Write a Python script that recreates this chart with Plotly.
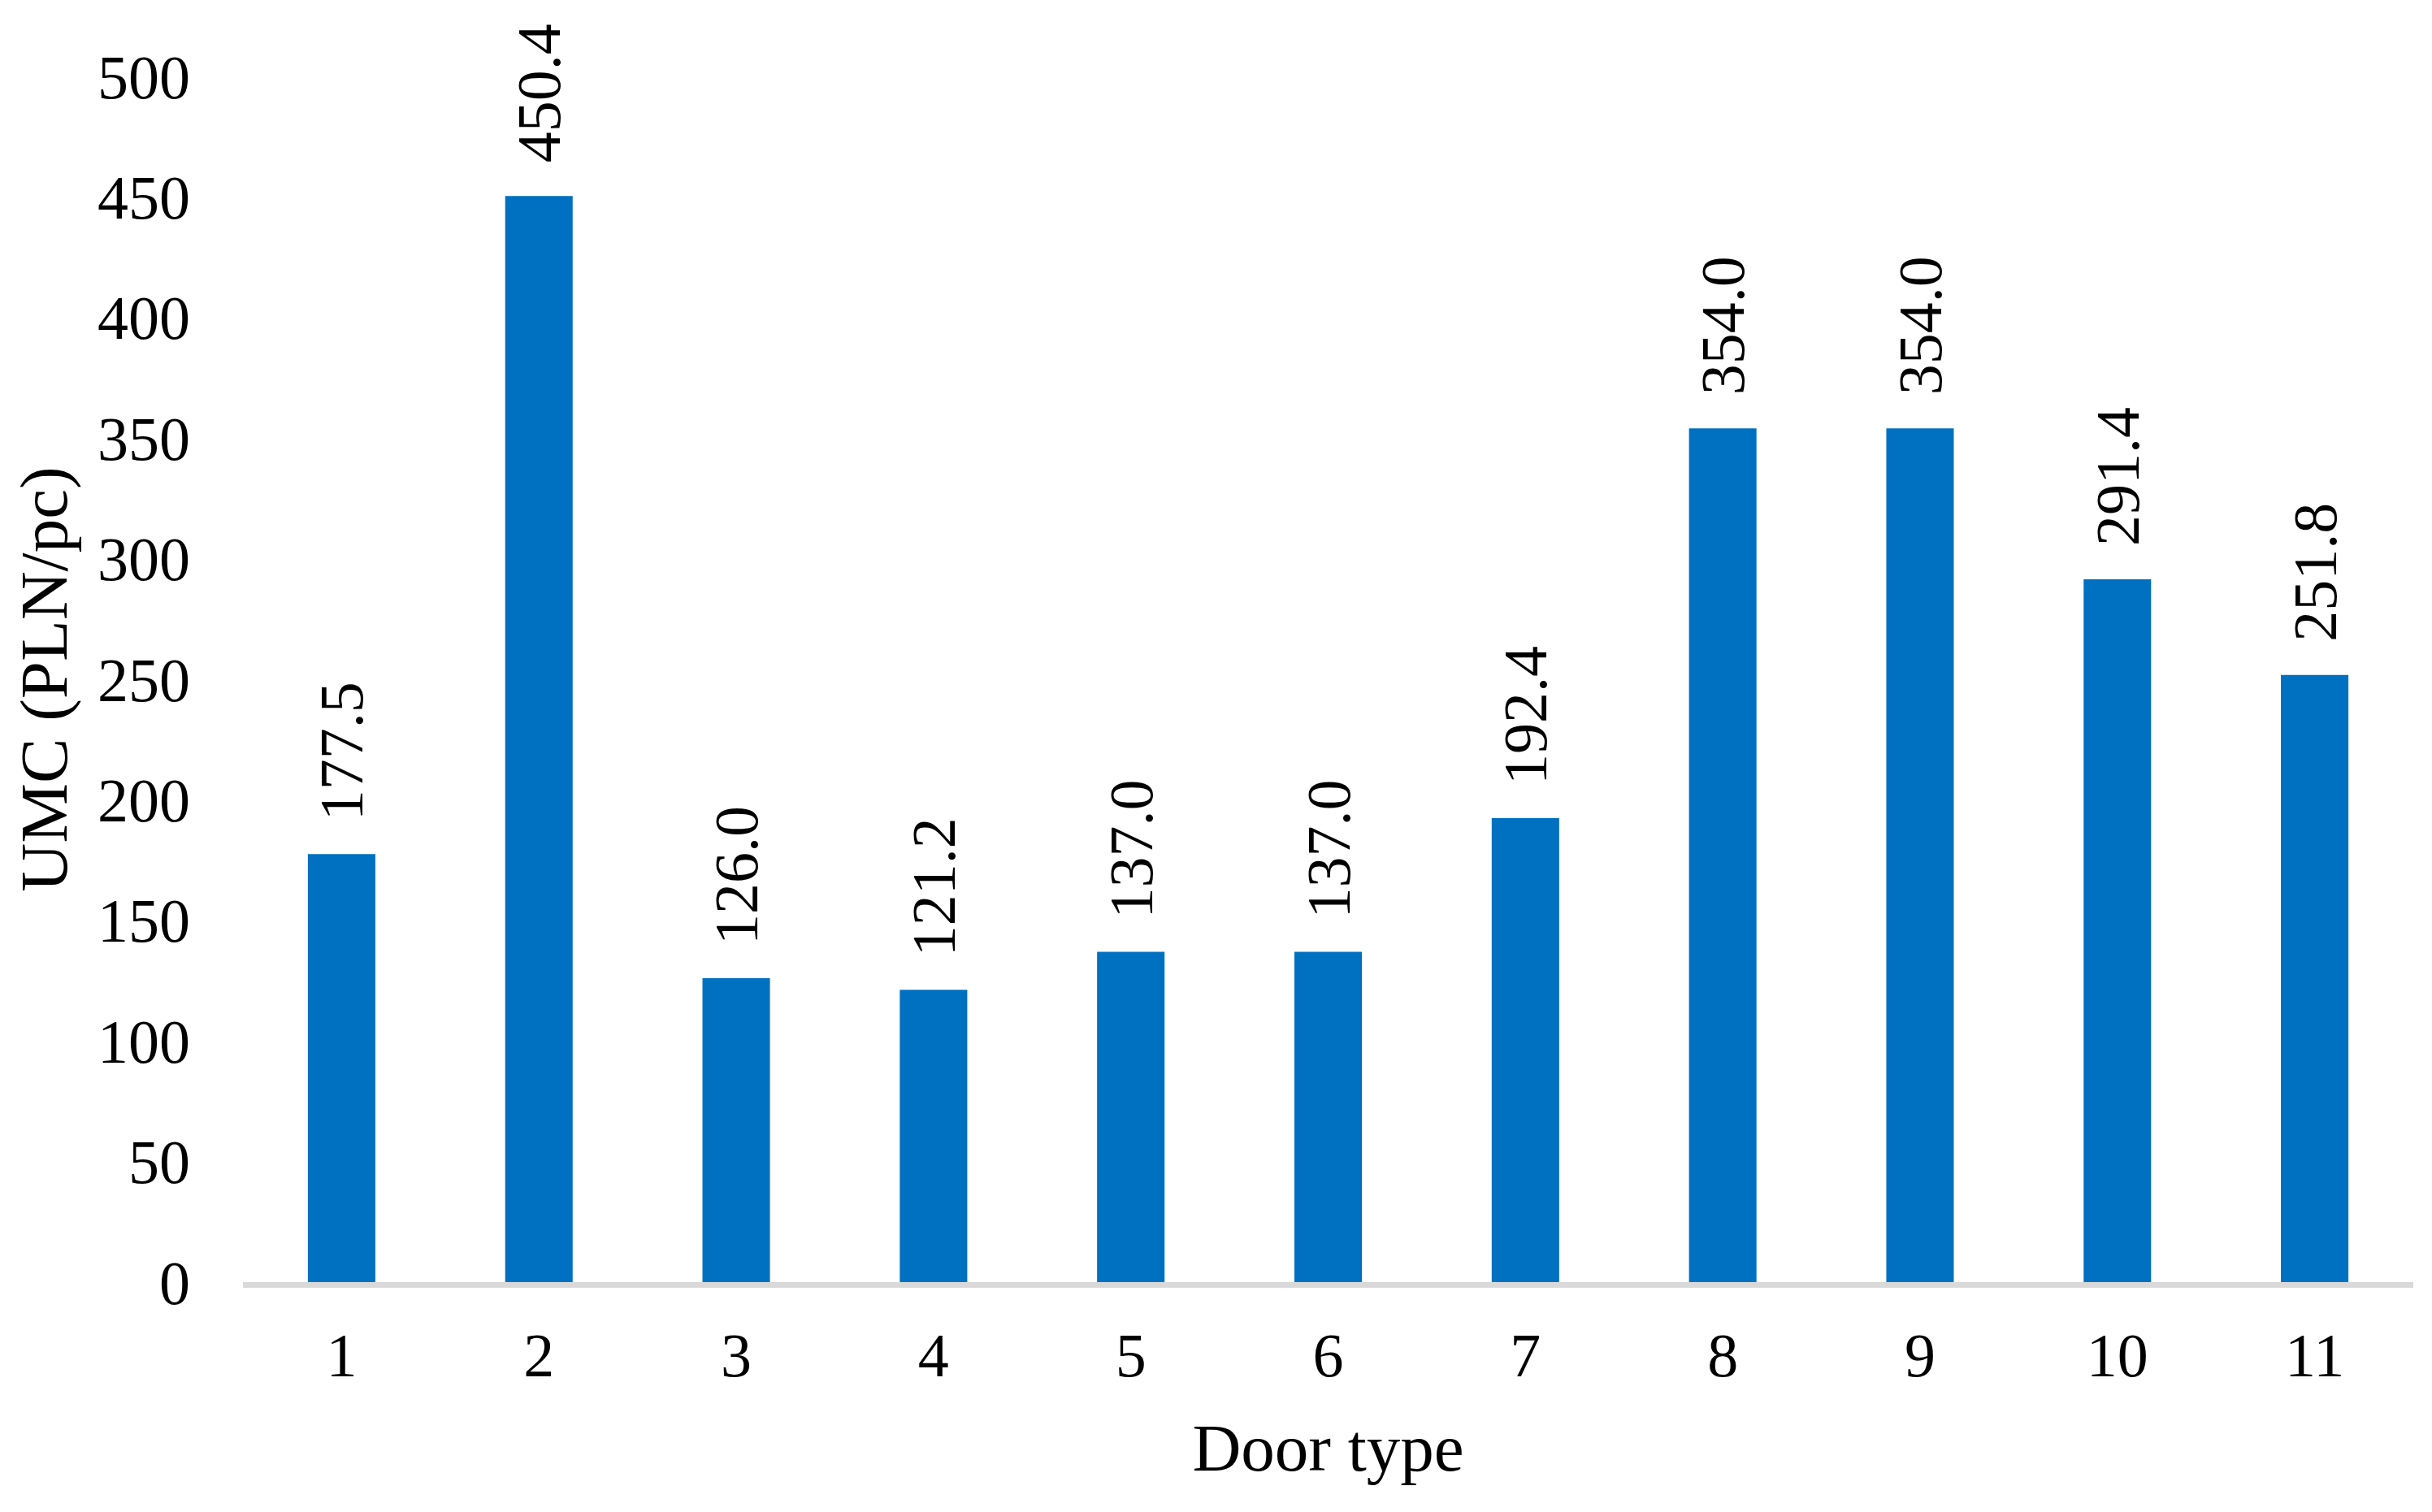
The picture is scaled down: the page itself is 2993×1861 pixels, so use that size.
import plotly.graph_objects as go

door_types = ["1", "2", "3", "4", "5", "6", "7", "8", "9", "10", "11"]
umc_values = [177.5, 450.4, 126.0, 121.2, 137.0, 137.0, 192.4, 354.0, 354.0, 291.4, 251.8]
y_ticks = [0, 50, 100, 150, 200, 250, 300, 350, 400, 450, 500]

FONT = "Times New Roman, Liberation Serif, serif"
BAR_COLOR = "#0070C0"
PAD = "\u00a0\u00a0"  # spacing between bar top and rotated label

fig = go.Figure()
fig.add_trace(go.Bar(
    x=door_types,
    y=umc_values,
    marker=dict(color=BAR_COLOR, line=dict(width=0)),
    width=0.342,
    text=[f"{PAD}{v:.1f}" for v in umc_values],
    textposition="outside",
    textangle=-90,
    constraintext="none",
    cliponaxis=False,
    textfont=dict(family=FONT, size=76, color="#000000"),
    hoverinfo="x+y",
))

fig.update_layout(
    width=2993, height=1861,
    margin=dict(l=291, r=31, t=86, b=291, autoexpand=False),
    paper_bgcolor="white", plot_bgcolor="white",
    showlegend=False,
    font=dict(family=FONT, size=76, color="#000000"),
    xaxis=dict(
        type="category",
        showgrid=False, zeroline=False,
        showline=True, linecolor="#D9D9D9", linewidth=7,
        ticks="", ticklabelstandoff=18,
        tickfont=dict(family=FONT, size=76, color="#000000"),
        title=dict(text="Door type", font=dict(family=FONT, size=83, color="#000000"), standoff=45),
        automargin=False,
    ),
    yaxis=dict(
        range=[0, 500],
        tickvals=y_ticks,
        ticktext=[str(v) for v in y_ticks],
        showgrid=False, zeroline=False, showline=False,
        ticks="", ticklabelstandoff=64,
        tickfont=dict(family=FONT, size=76, color="#000000"),
        title=dict(text="UMC (PLN/pc)", font=dict(family=FONT, size=83, color="#000000"), standoff=19),
        automargin=False,
    ),
)

fig.write_html("out.html")
